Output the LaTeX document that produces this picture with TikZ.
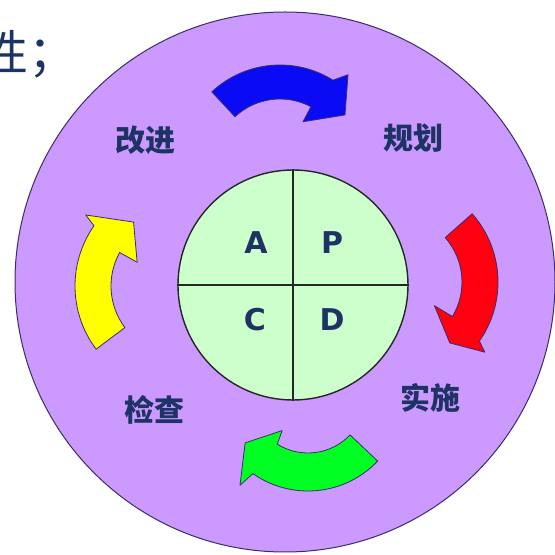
\documentclass[tikz,border=0pt]{standalone}
\usepackage{fontspec}
\setmainfont{Liberation Sans}
\newfontfamily\cjk{Noto Sans CJK SC}
\newfontfamily\heavy{DejaVu Sans}
\definecolor{lav}{HTML}{CC99FF}
\definecolor{mint}{HTML}{CCFFCC}
\definecolor{navy}{HTML}{1C3364}
\definecolor{edgec}{HTML}{3A2D6B}
\definecolor{arblue}{HTML}{0A0AF5}
\definecolor{arred}{HTML}{FF0010}
\definecolor{aryellow}{HTML}{FFFF00}
\definecolor{argreen}{HTML}{00FF22}
\begin{document}
\begin{tikzpicture}[x=1pt,y=1pt,
  arr/.style={draw=edgec, line width=0.8pt, line join=round},
  lbl/.style={font=\cjk\bfseries\fontsize{30}{30}\selectfont, text=navy, inner sep=0pt},
  lettr/.style={font=\heavy\bfseries\fontsize{30}{30}\selectfont, text=navy, inner sep=0pt},
  divline/.style={draw=black!85, line width=1.4pt}]
\useasboundingbox (0,0) rectangle (555,555);
\fill[white] (0,0) rectangle (555,555);
\clip (0,0) rectangle (555,555);
% heading fragment
\node[anchor=base west, font=\cjk\fontsize{48}{48}\selectfont, text=navy, inner sep=0pt] (head) at (-20,484) {性；};
% outer disc
\node[circle, draw=edgec, line width=1pt, fill=lav, minimum size=540pt, inner sep=0pt] (outer) at (285,273) {};
% inner disc
\node[circle, draw=black!85, line width=1.4pt, fill=mint, minimum size=230pt, inner sep=0pt] (inner) at (293,270) {};
\draw[divline] (inner.north) -- (inner.south);
\draw[divline] (inner.west) -- (inner.east);
% letters
\node[lettr] (A) at (256,312) {A};
\node[lettr] (P) at (332,312) {P};
\node[lettr] (C) at (255,235) {C};
\node[lettr] (D) at (332,235) {D};
% labels
\node[lbl] (gj) at (145,415) {改进};
\node[lbl] (gh) at (413,417) {规划};
\node[lbl] (jc) at (154,145) {检查};
\node[lbl] (ss) at (430,157) {实施};
% blue arrow (top)
\begin{scope}[shift={(280,390)}]
\draw[arr, fill=arblue] (133:100pt) arc[start angle=133, end angle=58, radius=100pt]
  -- (53:113pt) -- (37.6:82pt) -- (62:49pt) -- (62:66pt)
  arc[start angle=62, end angle=133, radius=66pt] -- cycle;
\end{scope}
% red arrow (right)
\begin{scope}[shift={(395,273)}]
\draw[arr, fill=arred] (41.5:103pt) arc[start angle=41.5, end angle=-35, radius=103pt]
  -- (-38:114pt) -- (-48:82pt) -- (-31:46pt) -- (-31:67pt)
  arc[start angle=-31, end angle=41.5, radius=67pt] -- cycle;
\end{scope}
% green arrow (bottom)
\begin{scope}[shift={(308,160)}]
\draw[arr, fill=argreen] (-43.5:96pt) arc[start angle=-43.5, end angle=-125, radius=96pt]
  -- (-127:113pt) -- (-142.7:79pt) -- (-126:44pt) -- (-122:58pt)
  arc[start angle=-122, end angle=-43.5, radius=58pt] -- cycle;
\end{scope}
% yellow arrow (left)
\begin{scope}[shift={(180,269)}]
\draw[arr, fill=aryellow] (217:105pt) arc[start angle=217, end angle=145, radius=105pt]
  -- (143:118pt) -- (126:79pt) -- (151:49pt) -- (151:69pt)
  arc[start angle=151, end angle=217, radius=69pt] -- cycle;
\end{scope}
\end{tikzpicture}
\end{document}
